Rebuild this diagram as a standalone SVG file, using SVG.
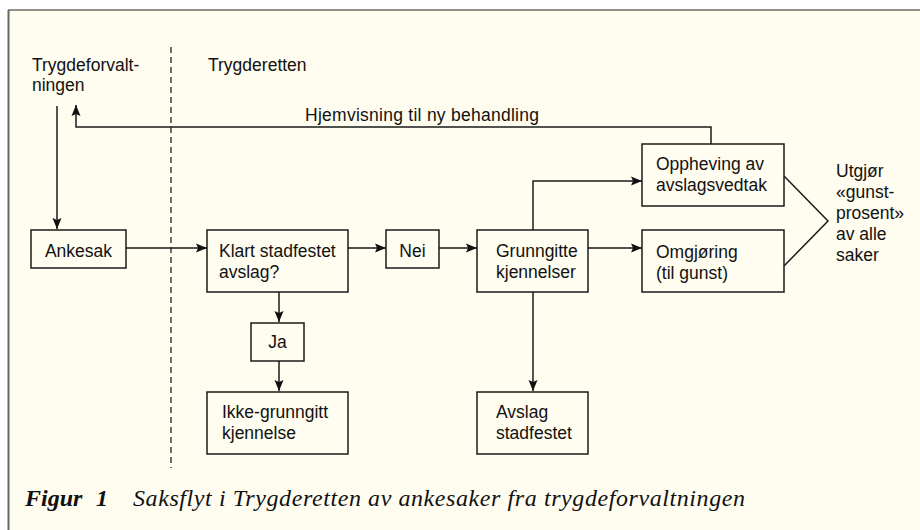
<svg xmlns="http://www.w3.org/2000/svg" width="920" height="530" viewBox="0 0 920 530">
<style>
.bg{fill:#FFFCF0}
.box{fill:none;stroke:#1a1a1a;stroke-width:1.5}
.t{font-family:"Liberation Sans",Arial,sans-serif;font-size:17.5px;fill:#111}
.c{text-anchor:middle}
.ln{fill:none;stroke:#1a1a1a;stroke-width:1.5}
.cap{font-family:"Liberation Serif","Times New Roman",serif;font-size:24px;font-style:italic;fill:#111}
</style>
<defs>
<marker id="ah" markerUnits="userSpaceOnUse" markerWidth="12" markerHeight="10" refX="11" refY="5" orient="auto">
<path d="M0,0.5 L11,5 L0,9.5 L2,5 z" fill="#111"/>
</marker>
</defs>
<rect x="0" y="0" width="920" height="530" fill="#fff"/>
<rect class="bg" x="9" y="10" width="911" height="520"/>
<line x1="8" y1="10" x2="920" y2="10" stroke="#222" stroke-width="1.2"/>
<line x1="8.5" y1="10" x2="8.5" y2="530" stroke="#666" stroke-width="2"/>

<g id="lane-labels">
<text class="t" x="32" y="71">Trygdeforvalt-</text>
<text class="t" x="32" y="91">ningen</text>
<text class="t" x="208" y="71">Trygderetten</text>
</g>
<line x1="171" y1="47" x2="171" y2="468" stroke="#222" stroke-width="1.3" stroke-dasharray="6,4"/>

<g id="connectors">
<path class="ln" d="M57,106 V229" marker-end="url(#ah)"/>
<path class="ln" d="M126,248 H207" marker-end="url(#ah)"/>
<path class="ln" d="M348,248 H386" marker-end="url(#ah)"/>
<path class="ln" d="M439,248 H477" marker-end="url(#ah)"/>
<path class="ln" d="M588,248 H642" marker-end="url(#ah)"/>
<path class="ln" d="M533,230 V181 H642" marker-end="url(#ah)"/>
<path class="ln" d="M533,292 V391" marker-end="url(#ah)"/>
<path class="ln" d="M279,292 V322" marker-end="url(#ah)"/>
<path class="ln" d="M279,361 V391" marker-end="url(#ah)"/>
<path class="ln" d="M711,144 V127 H76 V105" marker-end="url(#ah)"/>
<path class="ln" d="M784,176 L828,221 L784,266"/>
<text class="t" x="305" y="121" textLength="234" lengthAdjust="spacing">Hjemvisning til ny behandling</text>
</g>

<g id="ankesak">
<rect class="box" x="31" y="230" width="95" height="38"/>
<text class="t c" x="78.5" y="257">Ankesak</text>
</g>
<g id="klart">
<rect class="box" x="207" y="230" width="141" height="62"/>
<text class="t" x="219" y="257">Klart stadfestet</text>
<text class="t" x="219" y="278">avslag?</text>
</g>
<g id="nei">
<rect class="box" x="386" y="230" width="53" height="38"/>
<text class="t c" x="412.5" y="257">Nei</text>
</g>
<g id="grunngitte">
<rect class="box" x="477" y="230" width="111" height="62"/>
<text class="t" x="496" y="257">Grunngitte</text>
<text class="t" x="496" y="278">kjennelser</text>
</g>
<g id="oppheving">
<rect class="box" x="642" y="144" width="142" height="62"/>
<text class="t" x="656" y="170">Oppheving av</text>
<text class="t" x="656" y="191">avslagsvedtak</text>
</g>
<g id="omgjoring">
<rect class="box" x="642" y="230" width="142" height="62"/>
<text class="t" x="656" y="258">Omgjøring</text>
<text class="t" x="656" y="279">(til gunst)</text>
</g>
<g id="ja">
<rect class="box" x="251" y="323" width="53" height="38"/>
<text class="t c" x="277.5" y="348">Ja</text>
</g>
<g id="ikke">
<rect class="box" x="207" y="392" width="141" height="62"/>
<text class="t" x="222" y="418">Ikke-grunngitt</text>
<text class="t" x="222" y="439">kjennelse</text>
</g>
<g id="avslag">
<rect class="box" x="477" y="392" width="111" height="62"/>
<text class="t" x="496" y="418">Avslag</text>
<text class="t" x="496" y="439">stadfestet</text>
</g>
<g id="gunst">
<text class="t" x="836" y="177">Utgjør</text>
<text class="t" x="836" y="198">«gunst-</text>
<text class="t" x="836" y="219">prosent»</text>
<text class="t" x="836" y="240">av alle</text>
<text class="t" x="836" y="261">saker</text>
</g>

<g id="caption">
<text class="cap" x="25" y="506" font-weight="bold">Figur</text>
<text class="cap" x="96" y="506" font-weight="bold">1</text>
<text class="cap" x="133" y="506" textLength="612" lengthAdjust="spacing">Saksflyt i Trygderetten av ankesaker fra trygdeforvaltningen</text>
</g>
</svg>
